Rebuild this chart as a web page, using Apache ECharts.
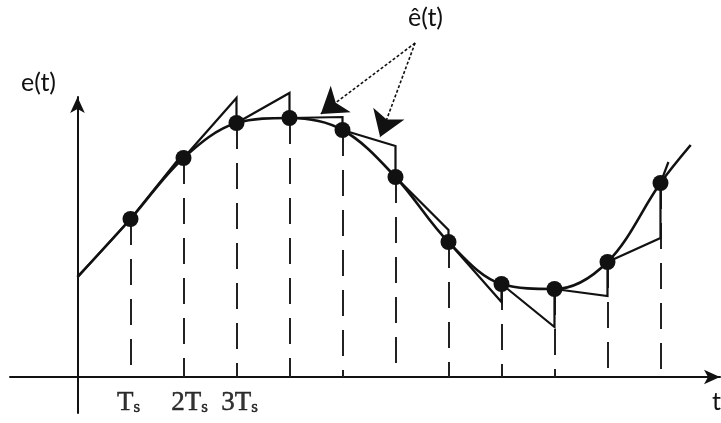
<!DOCTYPE html>
<html>
<head>
<meta charset="utf-8">
<script src="https://cdn.jsdelivr.net/npm/echarts@6/dist/echarts.min.js"></script>
<style>
  html, body { margin: 0; padding: 0; background: #fff; }
  #chart { width: 721px; height: 423px; }
</style>
</head>
<body>
<div id="chart"></div>
<script>
// time in units of Ts, value e(t) in arbitrary units (0 = time axis)
const sampleTimes = [0, 1, 2, 3, 4, 5, 6, 7, 8, 9, 10, 11];
const sampleValues = [2.0, 3.16, 4.38, 5.08, 5.18, 4.94, 4.0, 2.7, 1.86, 1.76, 2.3, 3.88];
const curveTail = [11.57, 4.64];
// value reached by the first-order hold at the end of each interval k -> k+1
const holdEnds = [3.16, 4.48, 5.58, 5.68, 5.2, 4.62, 2.94, 1.5, 1.0, 1.62, 2.78];
const lastHold = [11.15, 4.3];
const tickValues = [1, 2, 3];
const tickLabels = ['{T|T}{s|s}', '{T|2T}{s|s}', '{T|3T}{s|s}'];
const arrowFrom = [6.37, 6.68];
const arrowTips = [[4.59, 5.26], [5.71, 4.8]];

const ink = '#111';
const textInk = '#111';

const curveData = sampleTimes.map((t, i) => [t, sampleValues[i]]);
curveData.push(curveTail);

const holdLines = holdEnds.map((v, k) => ({
  coords: [[sampleTimes[k], sampleValues[k]], [sampleTimes[k + 1], v], [sampleTimes[k + 1], sampleValues[k + 1]]]
}));
holdLines.push({ coords: [[sampleTimes[11], sampleValues[11]], lastHold] });

const dropLines = sampleTimes.slice(1).map((t, i) => ({
  coords: [[t, sampleValues[i + 1]], [t, 0]]
}));

// small nudges so the labels sit where the original put them
const labelShift = [-2, 6, 3];

const serifText = { fontFamily: 'Liberation Serif', color: '#000', textBorderColor: '#000', textBorderWidth: 0.5 };

const chart = echarts.init(document.getElementById('chart'));
chart.setOption({
  animation: false,
  backgroundColor: '#fff',
  grid: { left: 10, right: 1, top: 97, bottom: 10, outerBoundsMode: 'none', containLabel: false },
  xAxis: {
    type: 'value',
    min: -1.2736,
    max: 12.123,
    splitLine: { show: false },
    axisTick: { show: false },
    axisLabel: { show: false },
    axisLine: {
      onZero: true,
      symbol: ['none', 'arrow'],
      symbolSize: [11, 16],
      lineStyle: { color: ink, width: 2 }
    }
  },
  yAxis: {
    type: 'value',
    min: -0.72,
    max: 5.6,
    splitLine: { show: false },
    axisTick: { show: false },
    axisLabel: { show: false },
    axisLine: {
      onZero: true,
      symbol: ['none', 'arrow'],
      symbolSize: [11, 16],
      lineStyle: { color: ink, width: 2 }
    }
  },
  graphic: [
    { type: 'text', left: 21, top: 70, style: { text: 'e(t)', font: '25px Lato', fill: textInk } },
    { type: 'text', left: 408, top: 5, style: { text: 'ê(t)', font: '25px Lato', fill: textInk } },
    { type: 'text', left: 712, top: 389, style: { text: 't', font: '25px Lato', fill: textInk } }
  ],
  series: [
    {
      type: 'lines',
      coordinateSystem: 'cartesian2d',
      silent: true,
      clip: false,
      lineStyle: { color: '#222', width: 2, type: [26, 14], opacity: 1 },
      data: dropLines
    },
    {
      type: 'lines',
      coordinateSystem: 'cartesian2d',
      polyline: true,
      silent: true,
      clip: false,
      lineStyle: { color: ink, width: 2.2, opacity: 1 },
      data: holdLines
    },
    {
      type: 'line',
      data: curveData,
      smooth: 0.35,
      showSymbol: false,
      clip: false,
      silent: true,
      lineStyle: { color: ink, width: 2.6 }
    },
    {
      type: 'scatter',
      data: curveData.slice(1, 12),
      symbolSize: 16,
      silent: true,
      clip: false,
      itemStyle: { color: ink, opacity: 1 }
    },
    {
      type: 'lines',
      coordinateSystem: 'cartesian2d',
      silent: true,
      clip: false,
      symbol: ['none', 'arrow'],
      symbolSize: 25,
      lineStyle: { color: ink, width: 1.6, type: [3, 2], opacity: 1 },
      data: arrowTips.map(p => ({ coords: [arrowFrom, p] }))
    },
    {
      // tick labels Ts, 2Ts, 3Ts under the time axis
      type: 'scatter',
      silent: true,
      clip: false,
      symbolSize: 1,
      itemStyle: { color: 'rgba(0,0,0,0)' },
      data: tickValues.map((v, i) => ({
        value: [v, 0],
        label: { offset: [labelShift[i], 0] }
      })),
      label: {
        show: true,
        position: 'bottom',
        distance: 12,
        color: '#000',
        formatter: p => tickLabels[p.dataIndex],
        rich: {
          T: Object.assign({ fontSize: 27 }, serifText),
          s: Object.assign({ fontSize: 17, padding: [10, 0, 0, 0] }, serifText)
        }
      }
    }
  ]
});
</script>
</body>
</html>
